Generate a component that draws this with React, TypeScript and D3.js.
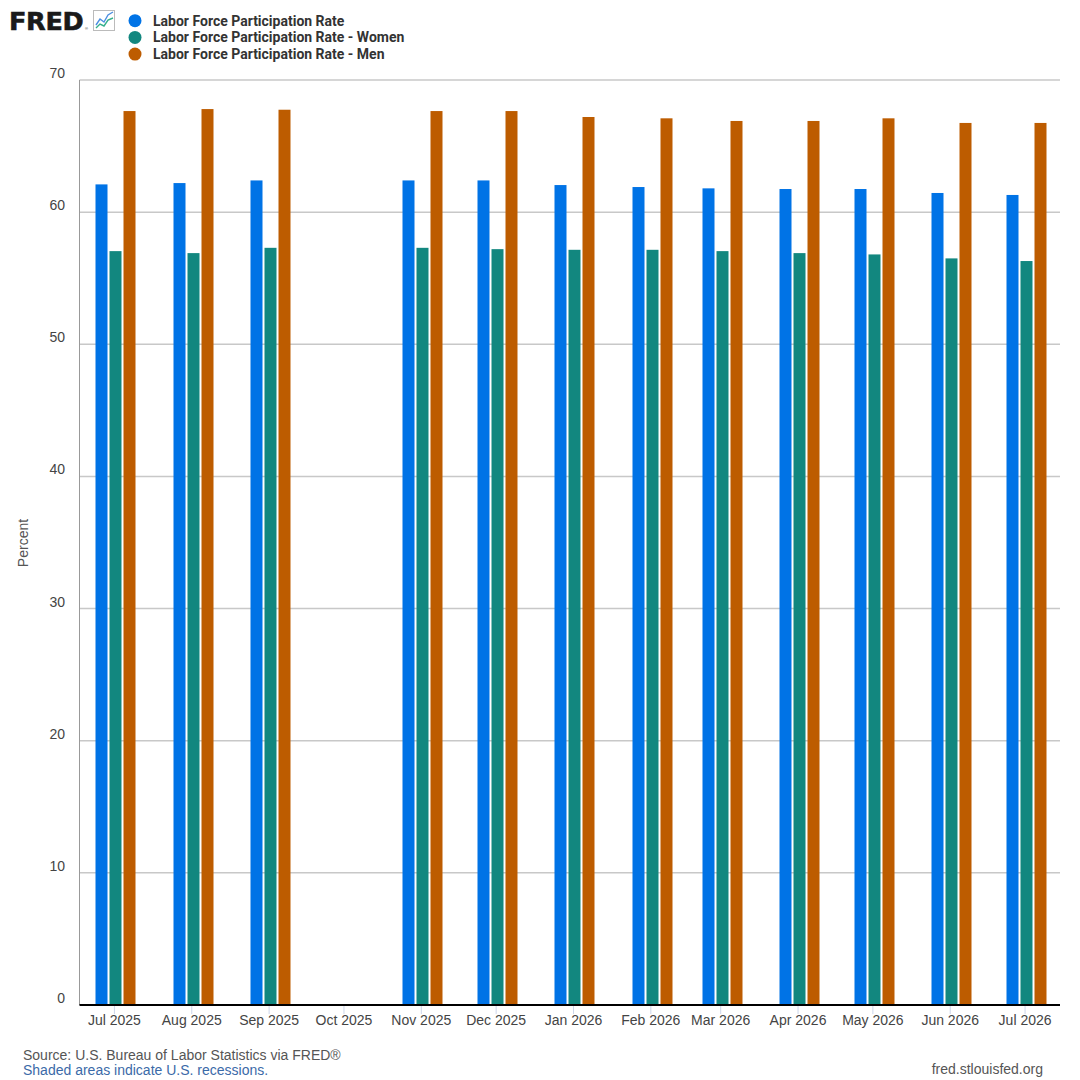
import React from "react";
import * as d3 from "d3";

const months: string[] = [
  "2025-07-01", "2025-08-01", "2025-09-01", "2025-10-01", "2025-11-01", "2025-12-01",
  "2026-01-01", "2026-02-01", "2026-03-01", "2026-04-01", "2026-05-01", "2026-06-01", "2026-07-01",
];
const tickLabels: string[] = [
  "Jul 2025", "Aug 2025", "Sep 2025", "Oct 2025", "Nov 2025", "Dec 2025",
  "Jan 2026", "Feb 2026", "Mar 2026", "Apr 2026", "May 2026", "Jun 2026", "Jul 2026",
];
const totalRate: (number | null)[] = [62.1, 62.2, 62.4, null, 62.4, 62.4, 62.05, 61.9, 61.8, 61.75, 61.75, 61.45, 61.3];
const womenRate: (number | null)[] = [57.05, 56.9, 57.3, null, 57.3, 57.2, 57.15, 57.15, 57.05, 56.9, 56.8, 56.5, 56.3];
const menRate: (number | null)[] = [67.65, 67.8, 67.75, null, 67.65, 67.65, 67.2, 67.1, 66.9, 66.9, 67.1, 66.75, 66.75];
const seriesNames: string[] = [
  "Labor Force Participation Rate",
  "Labor Force Participation Rate - Women",
  "Labor Force Participation Rate - Men",
];
const seriesColors: string[] = ["#0073e6", "#12877f", "#bd5c00"];
const yTicks: number[] = [0, 10, 20, 30, 40, 50, 60, 70];

const W = 1080;
const H = 1080;
const left = 79.5;
const right = 1060;
const top = 80;
const bottom = 1005;

export default function App() {
  const parse = d3.timeParse("%Y-%m-%d");
  const dates = months.map((m) => parse(m) as Date);
  const x = d3
    .scaleTime()
    .domain([parse("2025-06-17") as Date, parse("2026-07-15") as Date])
    .range([left, right]);
  const y = d3.scaleLinear().domain([0, 70]).range([bottom, top]);
  const all = [totalRate, womenRate, menRate];
  const barW = 12;
  const offsets = [-19, -5, 9];
  const font = "Arial, 'Liberation Sans', sans-serif";

  return (
    <svg width={W} height={H} style={{ position: "absolute", left: 0, top: 0, background: "#fff" }}>
      {/* Logo */}
      <text x={9} y={30} fontFamily="'DejaVu Sans', Arial, sans-serif" fontWeight={900} fontSize={25.5} fill="#1a1a1a" stroke="#1a1a1a" strokeWidth={0.6} letterSpacing={-0.3}>
        FRED
      </text>
      <text x={85} y={30} fontFamily={font} fontSize={4} fill="#1a1a1a">®</text>
      <rect x={93.5} y={10.5} width={21} height={20} fill="#fff" stroke="#bbb" strokeWidth={1} />
      <polyline points="96,25 100,19 104,22 108,15 113,12" fill="none" stroke="#4d8fe0" strokeWidth={1.4} />
      <polyline points="96,28 100,24 104,26 108,20 113,18" fill="none" stroke="#35b08c" strokeWidth={1.4} />

      {/* Legend */}
      {seriesNames.map((name, i) => (
        <g key={name}>
          <circle cx={135} cy={20.7 + i * 16.7} r={6.5} fill={seriesColors[i]} />
          <text x={153} y={25.7 + i * 16.7} fontFamily="Roboto, Arial, sans-serif" fontWeight={700} fontSize={14} fill="#333">
            {name}
          </text>
        </g>
      ))}

      {/* Grid */}
      {yTicks.map((t) =>
        t > 0 ? (
          <line key={"g" + t} x1={left} x2={right} y1={y(t)} y2={y(t)} stroke="#c8c8c8" strokeWidth={1.5} />
        ) : null
      )}
      {yTicks.map((t) => (
        <text key={"yl" + t} x={65} y={y(t) - 2} textAnchor="end" fontFamily={font} fontSize={14} fill="#444">
          {t}
        </text>
      ))}
      <line x1={left} x2={left} y1={top} y2={bottom} stroke="#999" strokeWidth={1} />

      {/* Y title */}
      <text
        transform={`translate(28,543) rotate(-90)`}
        textAnchor="middle"
        fontFamily={font}
        fontSize={14}
        fill="#555"
      >
        Percent
      </text>

      {/* Bars */}
      {all.map((vals, si) =>
        vals.map((v, i) =>
          v == null ? null : (
            <rect
              key={si + "-" + i}
              x={Math.round(x(dates[i])) + offsets[si] + 0.5}
              y={y(v)}
              width={barW}
              height={bottom - y(v)}
              fill={seriesColors[si]}
            />
          )
        )
      )}

      {/* X axis */}
      <line x1={left} x2={right} y1={bottom} y2={bottom} stroke="#000" strokeWidth={2} />
      {dates.map((d, i) => (
        <g key={"xt" + i}>
          <line x1={x(d)} x2={x(d)} y1={bottom + 1} y2={bottom + 9} stroke="#ccd6eb" strokeWidth={1} />
          <text x={x(d)} y={1025} textAnchor="middle" fontFamily={font} fontSize={14} fill="#444">
            {tickLabels[i]}
          </text>
        </g>
      ))}

      {/* Footer */}
      <text x={23} y={1060} fontFamily={font} fontSize={14} fill="#555">
        Source: U.S. Bureau of Labor Statistics via FRED®
      </text>
      <text x={23} y={1075} fontFamily={font} fontSize={14} fill="#3b6aa8">
        Shaded areas indicate U.S. recessions.
      </text>
      <text x={1043} y={1074} textAnchor="end" fontFamily={font} fontSize={14} fill="#555">
        fred.stlouisfed.org
      </text>
    </svg>
  );
}
